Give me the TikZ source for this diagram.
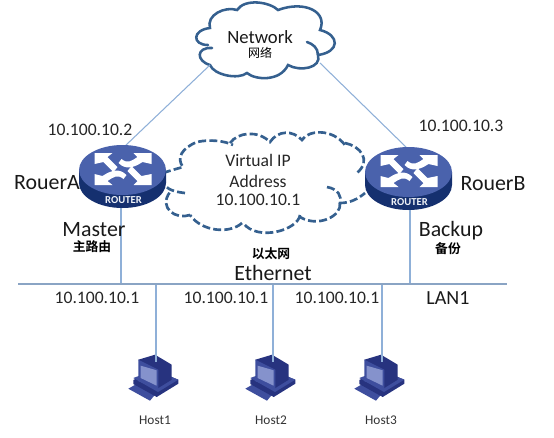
\documentclass[tikz,border=0pt]{standalone}
\usepackage{fontspec}
\setmainfont{Carlito}
\newfontfamily\cjk{Noto Sans CJK SC}[BoldFont={* Bold}]
\tikzset{
 x=.75pt,y=-.75pt,
 wire/.style={draw=linkblue,line width=.8pt},
 lan/.style={draw=lanblue,line width=.8pt},
 lbl/.style={inner sep=0pt,text=black!85,font=\fontsize{13.2}{15}\selectfont},
 big/.style={inner sep=0pt,text=black!90,font=\fontsize{16.4}{18}\selectfont},
 cn/.style={inner sep=0pt,text=black,font=\cjk\bfseries\fontsize{9.6}{11}\selectfont},
 small/.style={inner sep=0pt,text=black!80,font=\fontsize{10}{12}\selectfont},
 cloudline/.style={draw=cloudblue,line width=1.9pt,line cap=round},
 vcloud/.style={draw=cloudblue,line width=2pt,dash pattern=on 6pt off 2.4pt},
 routerpic/.pic={
  \fill[routerdark] (-43.5,0) -- (-43.5,13) arc[start angle=180,end angle=360,x radius=43.5,y radius=-25] -- (43.5,0) -- cycle;
  \fill[routertop] (0,0) ellipse[x radius=43.5,y radius=25];
  \begin{scope}[white]
   \fill (-28,-17) -- (-10,-17) -- (-15,-13) -- (-5,-3) -- (-9,2) -- (-19,-8) -- (-28,-6) -- cycle;
   \fill (29,-17) -- (11,-17) -- (15,-13) .. controls (9,-9) and (5,-6) .. (-1,-11) -- (-4,-7) .. controls (3,0) and (11,-2) .. (20,-8) -- (29,-6) -- cycle;
   \fill (-28,15) -- (-10,15) -- (-15,11) .. controls (-9,7) and (-5,4) .. (1,9) -- (4,5) .. controls (-3,-2) and (-11,0) .. (-20,6) -- (-28,4) -- cycle;
   \fill (29,15) -- (11,15) -- (15,11) -- (5,1) -- (9,-4) -- (19,6) -- (29,4) -- cycle;
  \end{scope}
  \node[inner sep=0pt,text=white!92!routertop,font=\bfseries\fontsize{8}{9}\selectfont] at (1,30) {ROUTER};
 },
 hostpic/.pic={
  \fill[hostmid] (-27.7,15.7) -- (-17.7,10) -- (-1,21.7) -- (-6,27.7) -- cycle;
  \fill[hostdark] (-22.7,7) -- (-1,-3) -- (22.3,6.7) -- (22.3,10.7) -- (0.7,24) -- (-22.7,11) -- cycle;
  \fill[hostmid] (-22.7,5) -- (-1,-3) -- (22.3,6.7) -- (2,19) -- cycle;
  \fill[hostdark] (-17.7,-13.3) -- (-1,-18.3) -- (15.7,-8.3) -- (15.7,6.7) -- (2.3,15) -- cycle;
  \fill[hostmid] (-17.7,-13.3) -- (2.3,-3.3) -- (2.3,15) -- (-17.7,8.3) -- cycle;
  \fill[hostscreen] (-15.3,-7.3) -- (0.7,-2.7) -- (0.7,12.7) -- (-15.3,5) -- cycle;
 }
}
\definecolor{linkblue}{HTML}{8FB0D8}
\definecolor{lanblue}{HTML}{8AA4C4}
\definecolor{cloudblue}{HTML}{35608F}
\definecolor{routertop}{HTML}{4A62AC}
\definecolor{routerdark}{HTML}{15306F}
\definecolor{hostdark}{HTML}{27337F}
\definecolor{hostmid}{HTML}{3E4E9E}
\definecolor{hostscreen}{HTML}{8592CC}
\begin{document}
\begin{tikzpicture}
\useasboundingbox (0,0) rectangle (554,437);
% named anchor points
\coordinate (netL) at (210,65);
\coordinate (netR) at (320,63);
\coordinate (raTop) at (125,146);
\coordinate (rbTop) at (407,148);
\coordinate (raBot) at (121,207);
\coordinate (rbBot) at (410,209);
\coordinate (lanL) at (18,284);
\coordinate (lanR) at (507,284);
\coordinate (lanA) at (121,284);
\coordinate (lanB) at (410,284);
\coordinate (lan1) at (156,284);
\coordinate (lan2) at (273,284);
\coordinate (lan3) at (382,284);
\coordinate (h1) at (156,362);
\coordinate (h2) at (273,362);
\coordinate (h3) at (382,362);
% network cloud
\draw[cloudline,fill=white]
 (212,48) .. controls (196,47) and (196,61) .. (210,65)
 .. controls (214,75) and (238,80) .. (247,73)
 .. controls (255,80) and (280,82) .. (288,65)
 .. controls (300,72) and (322,68) .. (318,55)
 .. controls (340,52) and (340,35) .. (320,30)
 .. controls (328,12) and (305,0) .. (278,10)
 .. controls (270,2) and (245,-2) .. (237,10)
 .. controls (225,6) and (206,15) .. (210,28)
 .. controls (192,30) and (192,45) .. (208,45);
\draw[cloudline] (318,55) .. controls (318,48) and (313,44) .. (307,42);
% connectors
\draw[wire] (netL) -- (raTop);
\draw[wire] (netR) -- (rbTop);
\draw[wire] (raBot) -- (lanA);
\draw[wire] (rbBot) -- (lanB);
\draw[wire] (lan1) -- (h1);
\draw[wire] (lan2) -- (h2);
\draw[wire] (lan3) -- (h3);
\draw[lan] (lanL) -- (lanR);
% virtual IP cloud
\draw[vcloud] (163,173) .. controls (172,170) and (176,169) .. (183,167)
 .. controls (176,158) and (182,148) .. (197,142)
 .. controls (210,139) and (225,141) .. (233,145);
\draw[vcloud] (230,143) .. controls (238,132) and (258,130) .. (270,142)
 .. controls (278,130) and (293,130) .. (302,140)
 .. controls (308,130) and (332,128) .. (345,145);
\draw[vcloud] (345,143) .. controls (360,146) and (372,160) .. (357,173);
\draw[vcloud] (327,187) .. controls (338,189) and (342,196) .. (340,203)
 .. controls (350,203) and (358,199) .. (365,193);
\draw[vcloud] (340,203) .. controls (342,216) and (318,228) .. (300,217);
\draw[vcloud] (300,215) .. controls (298,230) and (258,242) .. (243,223);
\draw[vcloud] (242,223) .. controls (230,234) and (202,232) .. (190,215);
\draw[vcloud] (190,215) .. controls (176,220) and (158,208) .. (170,192);
\draw[vcloud] (185,193) .. controls (176,192) and (166,190) .. (163,182);
% routers
\pic at (122.5,170) {routerpic};
\pic at (408.5,172) {routerpic};
% hosts
\pic at (156,373) {hostpic};
\pic at (273,373) {hostpic};
\pic at (382,373) {hostpic};
\foreach \p in {h1,h2,h3} \draw[wire] (\p) ++(0,-8) -- (\p);
% labels
\node[big,font=\fontsize{14}{16}\selectfont] (tnet) at (260,37) {Network};
\node[cn,font=\cjk\fontsize{9}{10}\selectfont] (tnetc) at (260,53) {网络};
\node[lbl] (ta) at (90,130) {10.100.10.2};
\node[lbl] (tb) at (461,126) {10.100.10.3};
\node[big] (ra) at (47,183) {RouerA};
\node[big] (rb) at (493,184) {RouerB};
\node[big] (tm) at (94,230) {Master};
\node[cn] (tmc) at (92,247) {主路由};
\node[big] (tbk) at (451,231) {Backup};
\node[cn] (tbkc) at (448,249) {备份};
\node[lbl] (v1) at (258,160) {Virtual IP};
\node[lbl] (v2) at (258,181) {Address};
\node[lbl] (v3) at (258,200) {10.100.10.1};
\node[cn] (ec) at (271,254) {以太网};
\node[big] (e) at (273,273) {Ethernet};
\node[big,font=\fontsize{15}{17}\selectfont] (lan) at (448,298) {LAN1};
\node[lbl] (i1) at (97,298) {10.100.10.1};
\node[lbl] (i2) at (226,298) {10.100.10.1};
\node[lbl] (i3) at (337,298) {10.100.10.1};
\node[small] (n1) at (155,420) {Host1};
\node[small] (n2) at (271,420) {Host2};
\node[small] (n3) at (381,420) {Host3};
\end{tikzpicture}
\end{document}
